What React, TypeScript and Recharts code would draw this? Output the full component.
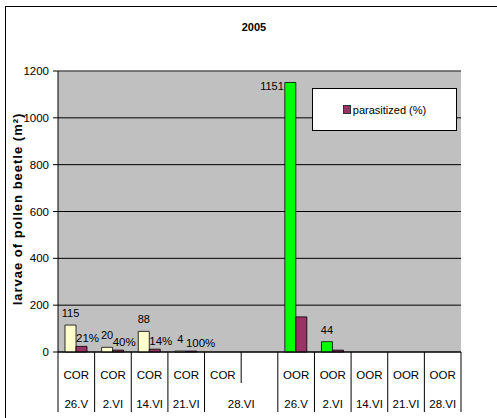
import { BarChart, Bar, Cell, XAxis, YAxis, CartesianGrid, Legend, Label, ReferenceLine } from 'recharts';

const dates = ['26.V', '2.VI', '14.VI', '21.VI', '28.VI', '', '26.V', '2.VI', '14.VI', '21.VI', '28.VI'];
const sites = ['COR', 'COR', 'COR', 'COR', 'COR', '', 'OOR', 'OOR', 'OOR', 'OOR', 'OOR'];
const larvae = [115, 20, 88, 4, 0, null, 1151, 44, 0, 0, 0];
const parasitized = [24, 8, 12, 4, 0, null, 150, 8, 0, 0, 0];
const parasitizedPct = ['21%', '40%', '14%', '100%', '', '', '13%', '18%', '', '', ''];
const yTicks = [0, 200, 400, 600, 800, 1000, 1200];

const data = dates.map((d, i) => ({
  key: `${sites[i]}-${d}-${i}`,
  larvae: larvae[i],
  parasitized: parasitized[i],
  pct: parasitizedPct[i],
}));

const W = 497;
const H = 418;
const M = { top: 71, right: 36, left: 0, bottom: 0 };
const Y_W = 58;
const PLOT_W = W - Y_W - M.right;
const FONT = '"Liberation Sans", Arial, sans-serif';

function CatTick(props: any) {
  const { x, y, index } = props;
  const band = PLOT_W / dates.length;
  const left = x - band / 2;
  const right = x + band / 2;
  const isLast = index === dates.length - 1;
  return (
    <g fontFamily={FONT} fontSize={11.5} fill="#000">
      <line x1={left} x2={left} y1={y} y2={index === 5 ? y + 31 : y + 60} stroke="#000" />
      {isLast && <line x1={right} x2={right} y1={y} y2={y + 60} stroke="#000" />}
      {sites[index] && (
        <text x={x} y={y + 27} textAnchor="middle">
          {sites[index]}
        </text>
      )}
      {dates[index] && (
        <text x={index === 4 ? right : x} y={y + 56} textAnchor="middle">
          {dates[index]}
        </text>
      )}
    </g>
  );
}

function LarvaeLabel(props: any) {
  const { x, y, width, value } = props;
  if (!value) return null;
  if (value > 1000) {
    return (
      <text x={x - 1} y={y + 8} textAnchor="end" fontSize={11} fontFamily={FONT} fill="#000">
        {value}
      </text>
    );
  }
  return (
    <text x={x + width / 2} y={y - 8} textAnchor="middle" fontSize={11} fontFamily={FONT} fill="#000">
      {value}
    </text>
  );
}

function PctLabel(props: any) {
  const { x, y, index } = props;
  const t = parasitizedPct[index];
  if (!t) return null;
  return (
    <text x={x} y={y - 4} fontSize={11.5} fontFamily={FONT} fill="#000">
      {t}
    </text>
  );
}

function LegendBox() {
  return (
    <div
      style={{
        width: 143,
        height: 41,
        background: '#fff',
        border: '1px solid #000',
        display: 'flex',
        alignItems: 'center',
        justifyContent: 'center',
        fontFamily: FONT,
        fontSize: 11,
        color: '#000',
      }}
    >
      <span style={{ display: 'inline-block', width: 6, height: 7, background: '#993366', border: '1px solid #333', marginRight: 2 }} />
      parasitized (%)
    </div>
  );
}

export default function App() {
  return (
    <div style={{ position: 'absolute', left: 0, top: 0, width: W, height: H, background: '#fff', overflow: 'hidden' }}>
      <div
        style={{
          position: 'absolute',
          left: 5,
          top: 6,
          width: 520,
          height: 440,
          border: '1px solid #000',
        }}
      />
      <div
        style={{
          position: 'absolute',
          left: 0,
          top: 21,
          width: 508,
          textAlign: 'center',
          fontFamily: FONT,
          fontWeight: 'bold',
          fontSize: 11,
        }}
      >
        2005
      </div>
      <BarChart
        width={W}
        height={H}
        data={data}
        margin={M}
        barGap={0}
        barSize={11}
        style={{ position: 'absolute', left: 0, top: 0 }}
      >
        <CartesianGrid vertical={false} stroke="#000" fill="#C0C0C0" fillOpacity={1} />
        <XAxis
          dataKey="key"
          height={66}
          interval={0}
          tickLine={false}
          tickSize={0}
          tickMargin={0}
          axisLine={{ stroke: '#000' }}
          tick={<CatTick />}
        />
        <YAxis
          width={Y_W}
          domain={[0, 1200]}
          ticks={yTicks}
          interval={0}
          tickSize={5}
          tickMargin={4}
          axisLine={{ stroke: '#000' }}
          tickLine={{ stroke: '#000' }}
          tick={{ fill: '#000', fontSize: 11.5, fontFamily: FONT }}
        >
          <Label
            content={() => (
              <text
                x={22}
                y={209}
                transform="rotate(-90 22 209)"
                textAnchor="middle"
                fontFamily={FONT}
                fontWeight="bold"
                fontSize={13}
                letterSpacing={1}
                fill="#000"
              >
                larvae of pollen beetle (m²)
              </text>
            )}
          />
        </YAxis>
        <ReferenceLine y={1200} stroke="#808080" />
        <Legend
          layout="horizontal"
          verticalAlign="middle"
          align="center"
          content={() => <LegendBox />}
          wrapperStyle={{ position: 'absolute', left: 312, top: 88, width: 145, height: 43 }}
        />
        <Bar dataKey="larvae" name="larvae" stroke="#000" strokeWidth={0.8} isAnimationActive={false} label={<LarvaeLabel />}>
          {data.map((_, i) => (
            <Cell key={i} fill={sites[i] === 'OOR' ? '#00FF00' : '#FFFFCC'} />
          ))}
        </Bar>
        <Bar
          dataKey="parasitized"
          name="parasitized (%)"
          fill="#993366"
          stroke="#000"
          strokeWidth={0.8}
          isAnimationActive={false}
          label={<PctLabel />}
        />
      </BarChart>
    </div>
  );
}
